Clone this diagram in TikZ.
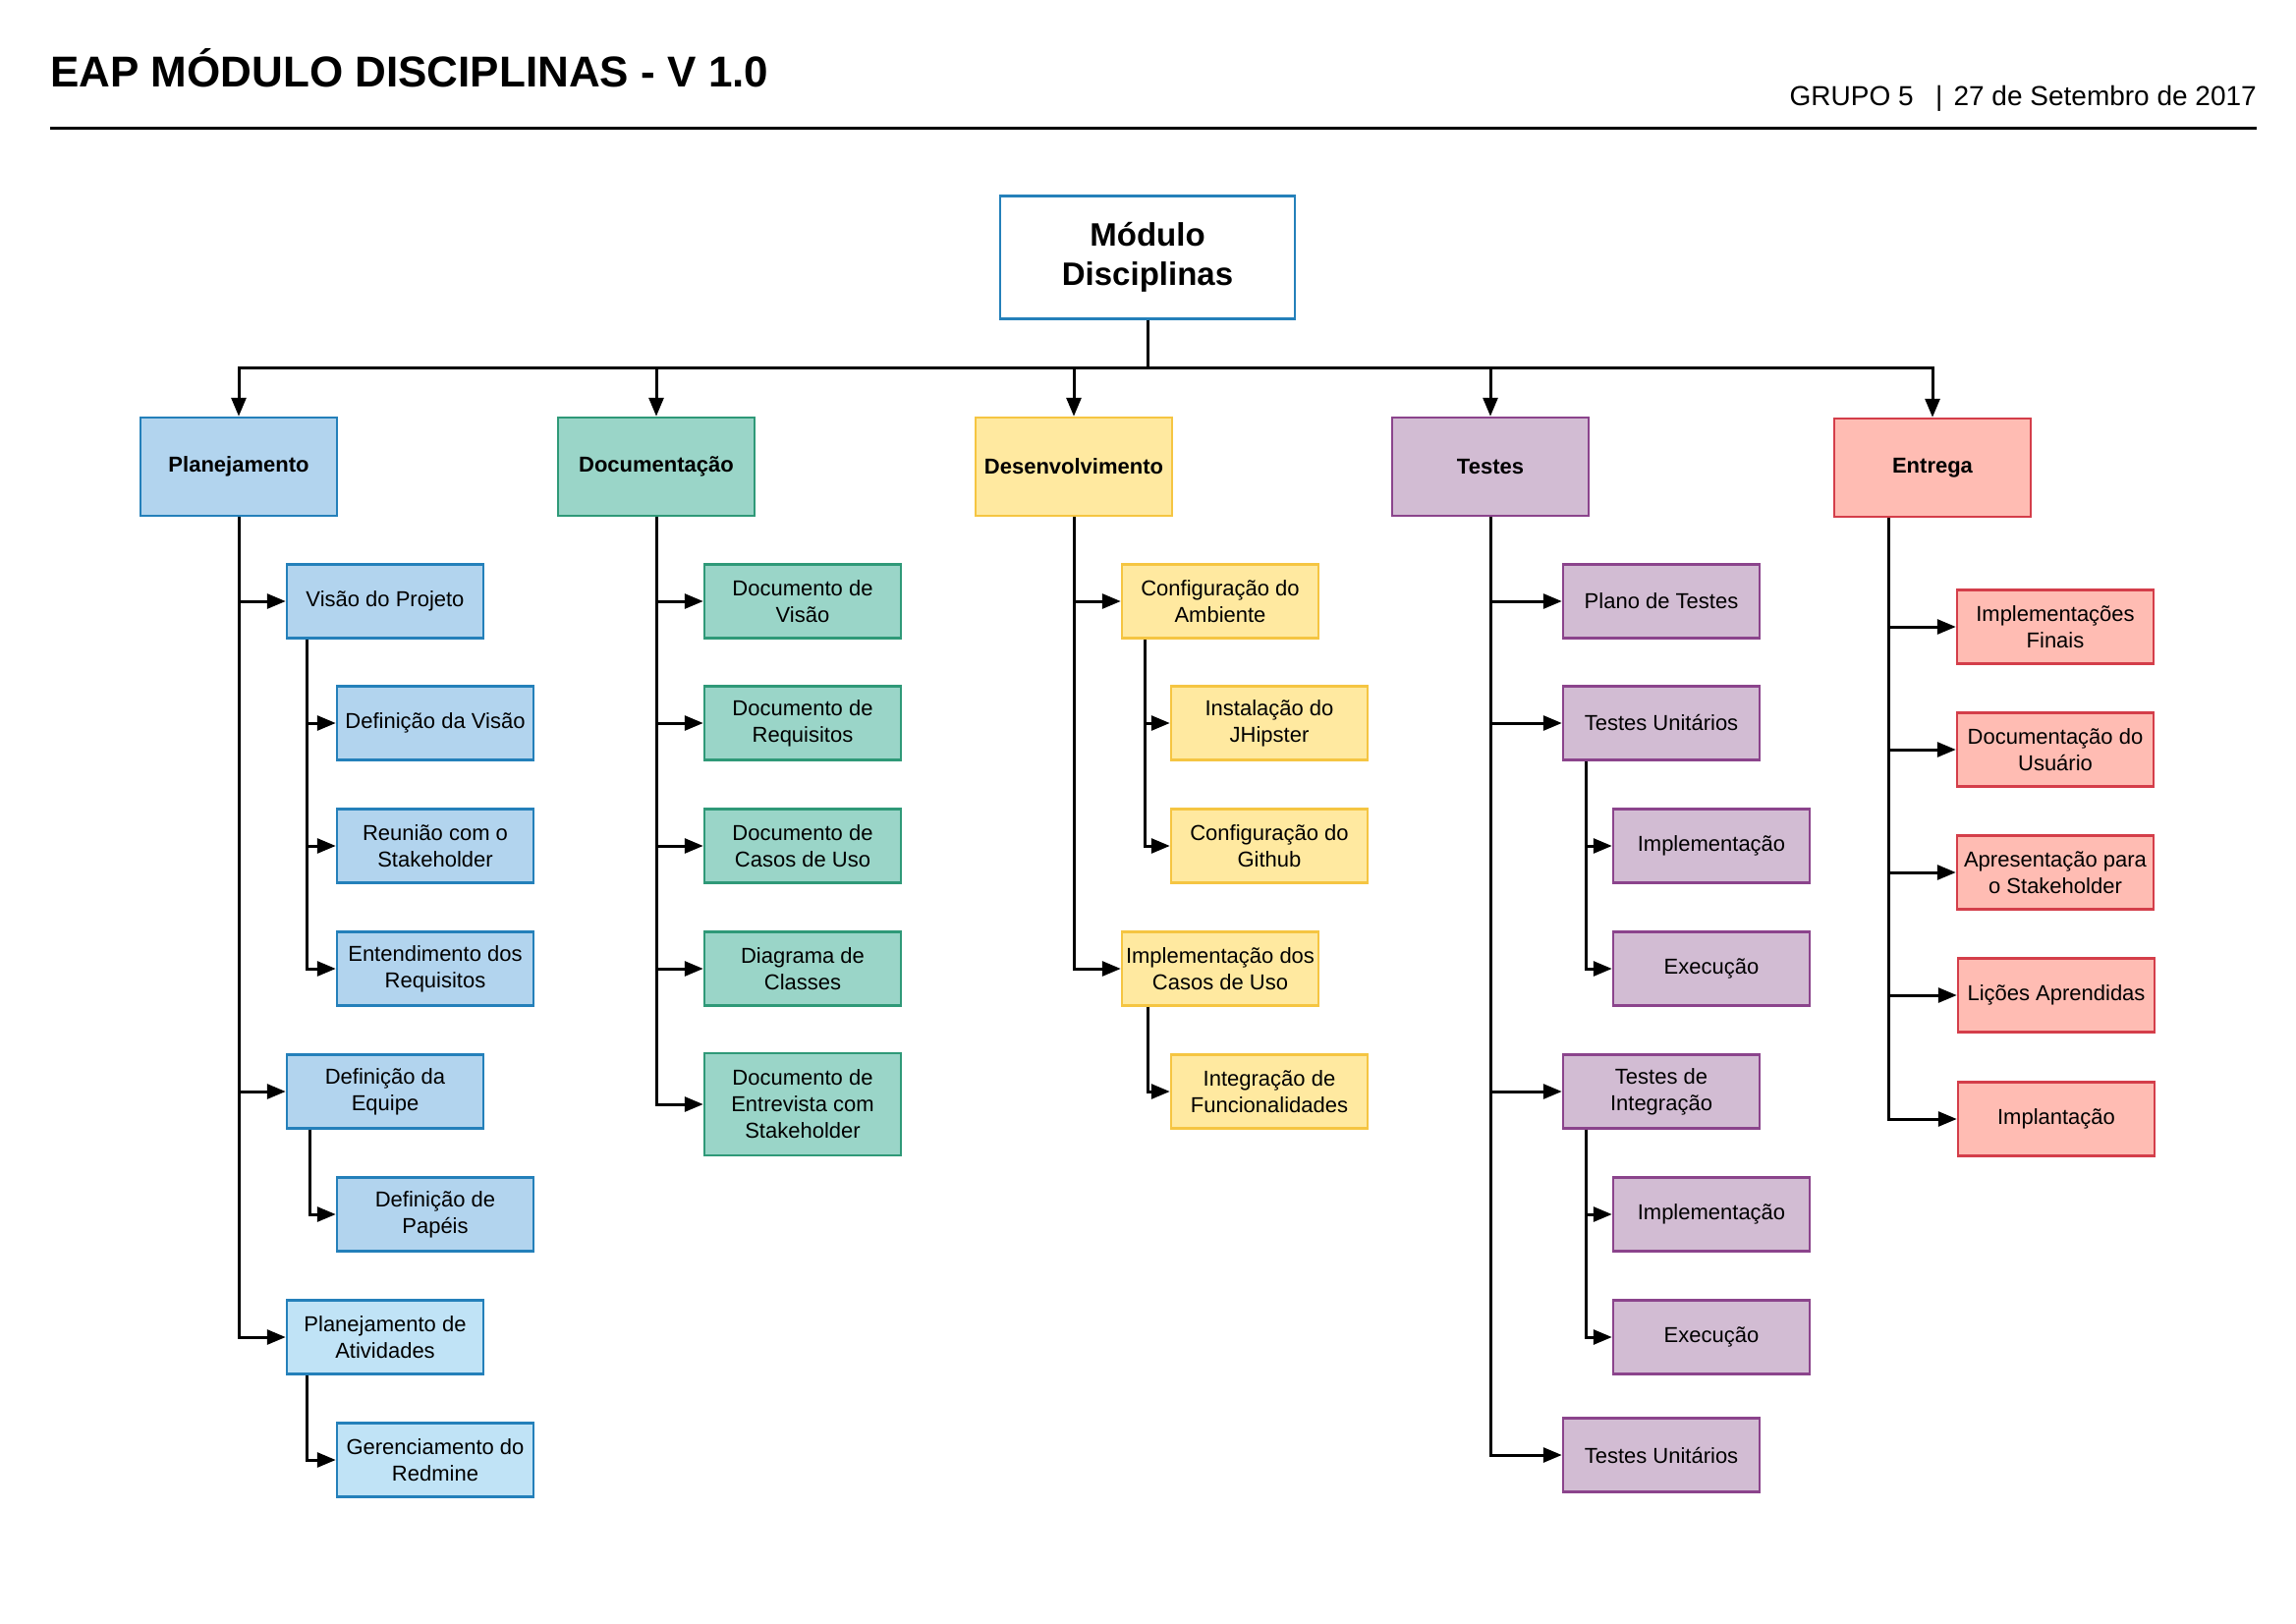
\documentclass[tikz,border=0pt]{standalone}
\usepackage{fontspec}
\setmainfont{Liberation Sans}
\usetikzlibrary{arrows.meta}
\definecolor{bluefill}{RGB}{178,212,238}
\definecolor{blueline}{RGB}{36,128,186}
\definecolor{lbluefill}{RGB}{192,227,246}
\definecolor{greenfill}{RGB}{154,213,200}
\definecolor{greenline}{RGB}{47,153,120}
\definecolor{yellowfill}{RGB}{255,233,160}
\definecolor{yellowline}{RGB}{245,197,66}
\definecolor{purplefill}{RGB}{210,188,211}
\definecolor{purpleline}{RGB}{139,68,140}
\definecolor{redfill}{RGB}{255,188,179}
\definecolor{redline}{RGB}{212,62,74}
\begin{document}
\begin{tikzpicture}[x=1pt,y=-1pt,
  box/.style={draw,line width=2.5pt,minimum width=200pt,minimum height=75pt,inner sep=0pt,align=center,font=\fontsize{22}{27}\selectfont},
  topbox/.style={box,minimum height=100pt,font=\fontsize{22}{27}\selectfont\bfseries},
  bl/.style={fill=bluefill,draw=blueline},
  lbl/.style={fill=lbluefill,draw=blueline},
  gr/.style={fill=greenfill,draw=greenline},
  ye/.style={fill=yellowfill,draw=yellowline},
  pu/.style={fill=purplefill,draw=purpleline},
  re/.style={fill=redfill,draw=redline},
  arr/.style={line width=3pt,-{Triangle[length=19pt,width=15pt]}},
  ln/.style={line width=3pt}]
\useasboundingbox (0,0) rectangle (2337,1653);
% header
\node[anchor=base west,inner sep=0pt,font=\fontsize{44}{50}\selectfont\bfseries] (title) at (51,89) {EAP MÓDULO DISCIPLINAS - V 1.0};
\node[anchor=base east,inner sep=0pt,font=\fontsize{28}{33}\selectfont] (date) at (2297,108) {GRUPO 5\hspace{0.8em}|\hspace{0.4em}27 de Setembro de 2017};
\coordinate (hl) at (51,131);
\coordinate (hr) at (2297,131);
\draw[line width=3pt] (hl) -- (hr);
% root
\node[draw=blueline,line width=2.5pt,fill=white,minimum width=300pt,minimum height=125pt,inner sep=0pt,align=center,font=\fontsize{33}{40}\selectfont\bfseries] (root) at (1168,262) {Módulo\\Disciplinas};
\coordinate (bus) at (0,374);
% level 1
\node[topbox,bl] (plan) at (243,475) {Planejamento};
\node[topbox,gr] (doc) at (668,475) {Documentação};
\node[topbox,ye] (dev) at (1093,475) {Desenvolvimento};
\node[topbox,pu] (tes) at (1517,475) {Testes};
\node[topbox,re] (ent) at (1967,476) {Entrega};
\foreach \n in {plan,doc,dev,tes,ent}
  \draw[arr] (root.south) -- (root.south |- bus) -| (\n.north);
% Planejamento
\node[box,bl] (pv) at (392,612) {Visão do Projeto};
\node[box,bl] (pdv) at (443,736) {Definição da Visão};
\node[box,bl] (prs) at (443,861) {Reunião com o\\Stakeholder};
\node[box,bl] (per) at (443,986) {Entendimento dos\\Requisitos};
\node[box,bl] (pde) at (392,1111) {Definição da\\Equipe};
\node[box,bl] (pdp) at (443,1236) {Definição de\\Papéis};
\node[box,lbl] (pa) at (392,1361) {Planejamento de\\Atividades};
\node[box,lbl] (pgr) at (443,1486) {Gerenciamento do\\Redmine};
\foreach \n in {pv,pde,pa} \draw[arr] (plan.south) |- (\n.west);
\foreach \n in {pdv,prs,per} \draw[arr] ([xshift=22pt]pv.south west) |- (\n.west);
\draw[arr] ([xshift=25pt]pde.south west) |- (pdp.west);
\draw[arr] ([xshift=22pt]pa.south west) |- (pgr.west);
% Documentacao
\node[box,gr] (dv) at (817,612) {Documento de\\Visão};
\node[box,gr] (dr) at (817,736) {Documento de\\Requisitos};
\node[box,gr] (dc) at (817,861) {Documento de\\Casos de Uso};
\node[box,gr] (dd) at (817,986) {Diagrama de\\Classes};
\node[box,gr,minimum height=104pt] (de) at (817,1124) {Documento de\\Entrevista com\\Stakeholder};
\foreach \n in {dv,dr,dc,dd,de} \draw[arr] (doc.south) |- (\n.west);
% Desenvolvimento
\node[box,ye] (ca) at (1242,612) {Configuração do\\Ambiente};
\node[box,ye] (ij) at (1292,736) {Instalação do\\JHipster};
\node[box,ye] (cg) at (1292,861) {Configuração do\\Github};
\node[box,ye] (icu) at (1242,986) {Implementação dos\\Casos de Uso};
\node[box,ye] (itf) at (1292,1111) {Integração de\\Funcionalidades};
\foreach \n in {ca,icu} \draw[arr] (dev.south) |- (\n.west);
\foreach \n in {ij,cg} \draw[arr] ([xshift=25pt]ca.south west) |- (\n.west);
\draw[arr] ([xshift=28pt]icu.south west) |- (itf.west);
% Testes
\node[box,pu] (tp) at (1691,612) {Plano de Testes};
\node[box,pu] (tu) at (1691,736) {Testes Unitários};
\node[box,pu] (tui) at (1742,861) {Implementação};
\node[box,pu] (tue) at (1742,986) {Execução};
\node[box,pu] (ti) at (1691,1111) {Testes de\\Integração};
\node[box,pu] (tii) at (1742,1236) {Implementação};
\node[box,pu] (tie) at (1742,1361) {Execução};
\node[box,pu] (tu2) at (1691,1481) {Testes Unitários};
\foreach \n in {tp,tu,ti,tu2} \draw[arr] (tes.south) |- (\n.west);
\foreach \n in {tui,tue} \draw[arr] ([xshift=25pt]tu.south west) |- (\n.west);
\foreach \n in {tii,tie} \draw[arr] ([xshift=25pt]ti.south west) |- (\n.west);
% Entrega
\node[box,re] (e1) at (2092,638) {Implementações\\Finais};
\node[box,re] (e2) at (2092,763) {Documentação do\\Usuário};
\node[box,re] (e3) at (2092,888) {Apresentação para\\o Stakeholder};
\node[box,re] (e4) at (2093,1013) {Lições Aprendidas};
\node[box,re] (e5) at (2093,1139) {Implantação};
\foreach \n in {e1,e2,e3,e4,e5} \draw[arr] ([xshift=57pt]ent.south west) |- (\n.west);
\end{tikzpicture}
\end{document}
